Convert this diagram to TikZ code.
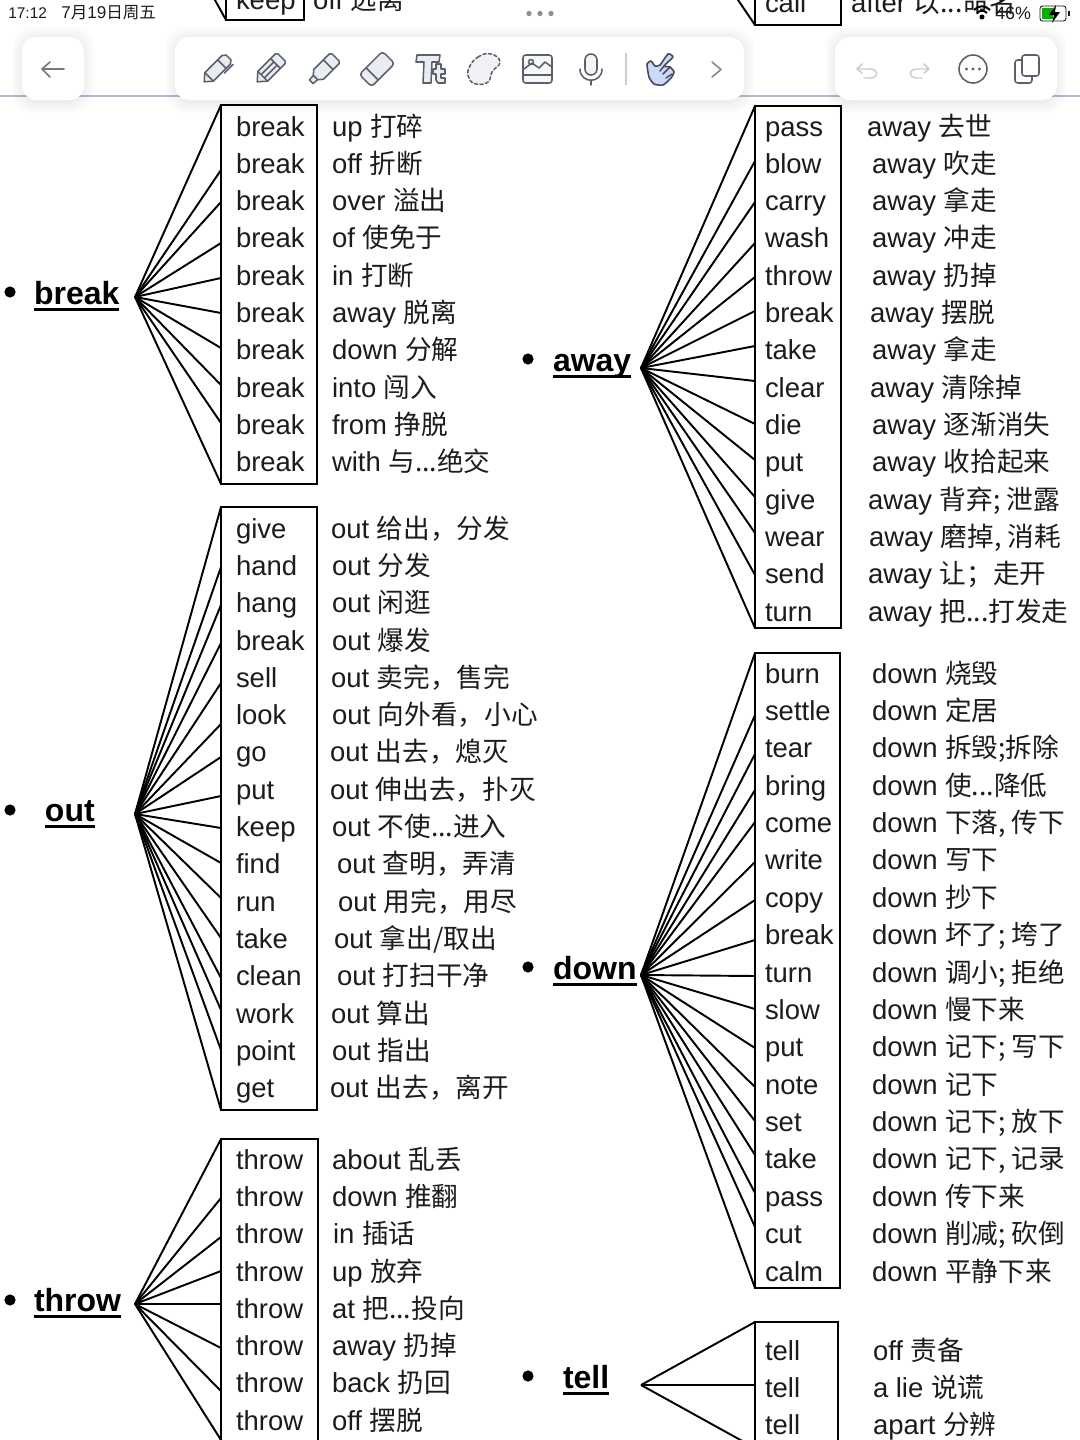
\documentclass[tikz,border=0pt]{standalone}
\usepackage{fontspec}
\usetikzlibrary{fit}
\setmainfont{Liberation Sans}
\newfontfamily\cjk[Scale=0.97]{Noto Sans CJK SC}
\newcommand\cn[1]{{\cjk #1}}
\definecolor{ink}{HTML}{1C1C1C}
\definecolor{icon}{HTML}{5A5F6B}
\definecolor{iconfill}{HTML}{E9ECF0}
\definecolor{faint}{HTML}{C9CDD3}
\definecolor{rulec}{HTML}{B3BED6}
\definecolor{handc}{HTML}{CDD9FB}
\tikzset{
  x=0.75pt,y=-0.75pt,
  wordlabel/.style={anchor=base west,inner sep=0pt,outer sep=0pt,text=ink,font=\fontsize{20.6}{24}\selectfont},
  headlabel/.style={anchor=base west,inner sep=0pt,outer sep=0pt,text=black,font=\fontsize{24}{30}\selectfont\bfseries},
  wbox/.style={draw=black,line width=1.5pt,inner sep=0pt,outer sep=0pt,fill=none},
  spoke/.style={draw=black,line width=1.45pt},
  headrule/.style={draw=black,line width=1.9pt},
  bulletdot/.style={circle,fill=black,inner sep=0pt,minimum size=8.4pt},
  panel/.style={fill=white,rounded corners=11pt},
  shadowp/.style={fill=black,fill opacity=0.012,rounded corners=15pt},
  ic/.style={draw=icon,line width=1.15pt,fill=iconfill,line join=round,line cap=round},
  icl/.style={draw=icon,line width=1.15pt,line join=round,line cap=round},
  icf/.style={draw=faint,line width=1.1pt,line cap=round,line join=round},
  statuslabel/.style={anchor=base west,inner sep=0pt,text=ink,font=\fontsize{11.6}{13}\selectfont},
}
\newcommand\mkbox[5]{\node[wbox,fit={(#2,#3)(#4,#5)}] (#1) {};}
\newcommand\headword[6]{% id, bullet x, bullet y, text x, baseline, text
  \node[bulletdot] (b#1) at (#2,#3) {};
  \node[headlabel] (h#1) at (#4,#5) {#6};
  \draw[headrule] ([yshift=-4.2pt]h#1.base west) -- ([yshift=-4.2pt]h#1.base east);
}
\begin{document}
\begin{tikzpicture}
\useasboundingbox (0,0) rectangle (1080,1440);
\fill[white] (0,0) rectangle (1080,1440);

% ---------- fragments at the top edge
\coordinate (hubKeep) at (135,-145);
\coordinate (hubCall) at (641,-143);
\mkbox{boxKeep}{226}{-40}{304}{20}
\mkbox{boxCall}{755}{-40}{841}{25}
\draw[spoke] (hubKeep) -- (boxKeep.south west);
\draw[spoke] (hubCall) -- (boxCall.south west);
\node[wordlabel] (wKeep) at (236,9) {keep};
\node[wordlabel] (tKeep) at (313,9) {off \cn{远离}};
\node[wordlabel] (wCall) at (765,12) {call};
\node[wordlabel] (tCall) at (851,12) {after \cn{以...命名}};

% ---------- break
\coordinate (hubBreak) at (135,297);
\mkbox{boxBreak}{221}{105}{317}{484}
\foreach \yy in {105,170,202,243,278,313,348,385,423,484}
  \draw[spoke] (hubBreak) -- (boxBreak.west |- 0,\yy);
\headword{Break}{10}{292}{34}{304}{break}
\foreach \rx/\tx [count=\i from 0] in {
  332/{up \cn{打碎}},332/{off \cn{折断}},332/{over \cn{溢出}},332/{of \cn{使免于}},332/{in \cn{打断}},
  332/{away \cn{脱离}},332/{down \cn{分解}},332/{into \cn{闯入}},332/{from \cn{挣脱}},332/{with \cn{与...绝交}}}{
  \pgfmathsetmacro\yy{136+37.33*\i}
  \node[wordlabel] (wBreak\i) at (236,\yy) {break};
  \node[wordlabel] (tBreak\i) at (\rx,\yy) {\tx};
}

% ---------- out
\coordinate (hubOut) at (135,814);
\mkbox{boxOut}{221}{507}{317}{1110}
\foreach \yy in {507,567,605,643,683,724,757,796,828,863,898,938,978,1010,1050,1110}
  \draw[spoke] (hubOut) -- (boxOut.west |- 0,\yy);
\headword{Out}{10}{810}{45}{821}{out}
\foreach \wrd/\rx/\tx [count=\i from 0] in {
  give/331/{out \cn{给出，分发}},hand/332/{out \cn{分发}},hang/332/{out \cn{闲逛}},break/332/{out \cn{爆发}},
  sell/331/{out \cn{卖完，售完}},look/332/{out \cn{向外看，小心}},go/330/{out \cn{出去，熄灭}},put/330/{out \cn{伸出去，扑灭}},
  keep/332/{out \cn{不使...进入}},find/337/{out \cn{查明，弄清}},run/338/{out \cn{用完，用尽}},take/334/{out \cn{拿出/取出}},
  clean/337/{out \cn{打扫干净}},work/331/{out \cn{算出}},point/332/{out \cn{指出}},get/330/{out \cn{出去，离开}}}{
  \pgfmathsetmacro\yy{538+37.33*\i}
  \node[wordlabel] (wOut\i) at (236,\yy) {\wrd};
  \node[wordlabel] (tOut\i) at (\rx,\yy) {\tx};
}

% ---------- throw
\coordinate (hubThrow) at (135,1304);
\mkbox{boxThrow}{221}{1139}{318}{1500}
\foreach \yy in {1139,1198,1237,1271,1304,1348,1391,1440}
  \draw[spoke] (hubThrow) -- (boxThrow.west |- 0,\yy);
\headword{Throw}{10}{1300}{34}{1311}{throw}
\foreach \rx/\tx [count=\i from 0] in {
  332/{about \cn{乱丢}},332/{down \cn{推翻}},333/{in \cn{插话}},332/{up \cn{放弃}},
  332/{at \cn{把...投向}},332/{away \cn{扔掉}},332/{back \cn{扔回}},332/{off \cn{摆脱}}}{
  \pgfmathsetmacro\yy{1169+37.33*\i}
  \node[wordlabel] (wThrow\i) at (236,\yy) {throw};
  \node[wordlabel] (tThrow\i) at (\rx,\yy) {\tx};
}

% ---------- away
\coordinate (hubAway) at (641,368);
\mkbox{boxAway}{755}{106}{841}{628}
\foreach \yy in {106,161,202,243,277,311,346,381,424,460,497,533,575,628}
  \draw[spoke] (hubAway) -- (boxAway.west |- 0,\yy);
\headword{Away}{528}{359}{553}{371}{away}
\foreach \wrd/\rx/\tx [count=\i from 0] in {
  pass/867/{away \cn{去世}},blow/872/{away \cn{吹走}},carry/872/{away \cn{拿走}},wash/872/{away \cn{冲走}},
  throw/872/{away \cn{扔掉}},break/870/{away \cn{摆脱}},take/872/{away \cn{拿走}},clear/870/{away \cn{清除掉}},
  die/872/{away \cn{逐渐消失}},put/872/{away \cn{收拾起来}},give/868/{away \cn{背弃; 泄露}},wear/869/{away \cn{磨掉, 消耗}},
  send/868/{away \cn{让；走开}},turn/868/{away \cn{把...打发走}}}{
  \pgfmathsetmacro\yy{136+37.33*\i}
  \node[wordlabel] (wAway\i) at (765,\yy) {\wrd};
  \node[wordlabel] (tAway\i) at (\rx,\yy) {\tx};
}

% ---------- down
\coordinate (hubDown) at (641,975);
\mkbox{boxDown}{755}{653}{840}{1288}
\foreach \yy in {653,715,754,790,822,862,900,940,976,1009,1048,1087,1121,1155,1193,1227,1288}
  \draw[spoke] (hubDown) -- (boxDown.west |- 0,\yy);
\headword{Down}{528}{967}{553}{979}{down}
\foreach \wrd/\tx [count=\i from 0] in {
  burn/{down \cn{烧毁}},settle/{down \cn{定居}},tear/{down \cn{拆毁;拆除}},bring/{down \cn{使...降低}},
  come/{down \cn{下落, 传下}},write/{down \cn{写下}},copy/{down \cn{抄下}},break/{down \cn{坏了; 垮了}},
  turn/{down \cn{调小; 拒绝}},slow/{down \cn{慢下来}},put/{down \cn{记下; 写下}},note/{down \cn{记下}},
  set/{down \cn{记下; 放下}},take/{down \cn{记下, 记录}},pass/{down \cn{传下来}},cut/{down \cn{削减; 砍倒}},
  calm/{down \cn{平静下来}}}{
  \pgfmathsetmacro\yy{683+37.38*\i}
  \node[wordlabel] (wDown\i) at (765,\yy) {\wrd};
  \node[wordlabel] (tDown\i) at (872,\yy) {\tx};
}

% ---------- tell
\coordinate (hubTell) at (641,1385);
\mkbox{boxTell}{755}{1322}{838}{1500}
\foreach \yy in {1322,1385,1448}
  \draw[spoke] (hubTell) -- (boxTell.west |- 0,\yy);
\headword{Tell}{528}{1376}{563}{1388}{tell}
\foreach \tx [count=\i from 0] in {{off \cn{责备}},{a lie \cn{说谎}},{apart \cn{分辨}}}{
  \pgfmathsetmacro\yy{1360+37.33*\i}
  \node[wordlabel] (wTell\i) at (765,\yy) {tell};
  \node[wordlabel] (tTell\i) at (873,\yy) {\tx};
}

% ---------- app chrome
\draw[rulec,line width=1.6pt] (0,96) -- (1080,96);
\foreach \g in {0,2,4,6,8,10}{
  \fill[shadowp] (22-\g,37-\g) rectangle (84+\g,100+\g+3);
  \fill[shadowp] (175-\g,37-\g) rectangle (744+\g,100+\g+3);
  \fill[shadowp] (835-\g,37-\g) rectangle (1057+\g,100+\g+3);
}
\fill[panel] (22,37) rectangle (84,100);
\fill[panel] (175,37) rectangle (744,100);
\fill[panel] (835,37) rectangle (1057,100);

% back arrow
\draw[draw=icon!85,line width=1.2pt,line cap=round,line join=round] (64,69) -- (42,69) (50,62) -- (42,69) -- (50,77);

% pen
\begin{scope}[shift={(217,69)},rotate=45,scale=0.86]
  \draw[ic] (-21,0) -- (-13,-7) -- (15,-7) -- (19,-4) -- (19,4) -- (15,7) -- (-13,7) -- cycle;
  \draw[icl] (8,-7) -- (8,7) (-13,-7) -- (-13,7) (3,9.5) -- (17,9.5);
\end{scope}
% pencil
\begin{scope}[shift={(270,69)},rotate=45,scale=0.86]
  \draw[ic] (-21,0) -- (-12,-8) -- (17,-8) -- (19,-6) -- (19,6) -- (17,8) -- (-12,8) -- cycle;
  \draw[icl] (9,-8) -- (9,8) (-12,-8) -- (-12,8) (-12,-2.7) -- (9,-2.7) (-12,2.7) -- (9,2.7);
\end{scope}
% marker
\begin{scope}[shift={(324,69)},rotate=45,scale=0.86]
  \draw[ic] (-21,-3) -- (-14,-3.5) -- (-9,-8) -- (17,-8) -- (19,-6) -- (19,6) -- (17,8) -- (-9,8) -- (-14,3.5) -- (-21,3) -- cycle;
  \draw[icl] (7,-8) -- (7,8) (-14,-3.5) -- (-14,3.5);
\end{scope}
% eraser
\begin{scope}[shift={(377,69)},rotate=45,scale=0.86]
  \draw[ic,rounded corners=2.5pt] (-19,-10) rectangle (19,10);
  \draw[icl] (-8,-10) -- (-8,10);
\end{scope}
% Tt
\draw[ic] (417,55) -- (440,55) -- (439,62) -- (432,62) -- (431,83) -- (423,83) -- (424,62) -- (416,62) -- cycle;
\draw[ic] (436,64) -- (441,64) -- (441,69) -- (445,69) -- (445,74) -- (441,74) -- (441,78) -- (445,78) -- (445,83) -- (438,83) -- (436,80) -- (436,74) -- (433,74) -- (433,69) -- (436,69) -- cycle;
% lasso
\draw[icl,fill=iconfill!70,dashed,dash pattern=on 2.4pt off 1.8pt] plot[smooth cycle,tension=0.8] coordinates {(469,68) (478,57) (491,54) (500,62) (492,72) (488,82) (476,84) (469,78)};
% image
\draw[icl,fill=iconfill!40,rounded corners=2pt] (523,55) rectangle (552,83);
\draw[icl] (523,75) -- (552,75) (524,69) -- (532,63) -- (539,68) -- (545,62) -- (552,67);
\draw[icl] (531,62) circle (1.9pt);
% mic
\draw[ic,fill=iconfill!60,rounded corners=4.4pt] (585,54) rectangle (597,75);
\draw[icl] (580,69) .. controls (580,84) and (602,84) .. (602,69) (591,80) -- (591,85);
% separator
\draw[faint,line width=0.9pt] (626,53) -- (626,85);
% hand
\draw[draw=icon!80!black,fill=handc,line width=1.2pt,line join=round] plot[smooth cycle,tension=0.35] coordinates {(668,54) (673,57) (664,66) (670,67) (674,72) (671,78) (663,85) (654,84) (649,77) (647,64) (651,61) (655,66) (660,65)};
\draw[draw=icon!80!black,line width=1.1pt,line cap=round] (664,66) -- (660,71) (670,67) -- (663,74) (672,74) -- (666,78);
% chevron
\draw[draw=icon!80,line width=1.1pt,line cap=round,line join=round] (712,62) -- (721,69.5) -- (712,77);
% undo, redo
\draw[icf] (857,69) -- (862,64) (857,69) -- (862,73) (857,69) -- (870,69) .. controls (879,69) and (879,78) .. (870,78) -- (864,78);
\draw[icf] (929,69) -- (924,64) (929,69) -- (924,73) (929,69) -- (917,69) .. controls (908,69) and (908,78) .. (917,78) -- (922,78);
% more
\draw[icl] (973,69) circle (10.5pt);
\fill[icon] (966.5,69) circle (1.3pt) (973,69) circle (1.3pt) (979.5,69) circle (1.3pt);
% pages
\draw[icl,rounded corners=2pt] (1022,55) rectangle (1039,76);
\draw[icl,rounded corners=2pt] (1022,60) -- (1015,60) -- (1015,83) -- (1032,83) -- (1032,76);

% ---------- status bar
\node[statuslabel] (clock) at (8,18) {17:12};
\node[statuslabel,font=\fontsize{12.8}{14}\selectfont] (date) at (61,18.5) {7\cn{月}19\cn{日周五}};
\fill[icon!70] (529,13.5) circle (2pt) (540,13.5) circle (2pt) (551,13.5) circle (2pt);
\node[statuslabel,font=\fontsize{13.4}{15}\selectfont] (pct) at (995,19.5) {46\%};
\draw[black,line width=1.5pt] (974,10) .. controls (979,5) and (985,5) .. (990,10);
\draw[black,line width=1.5pt] (977,13) .. controls (980,10) and (984,10) .. (987,13);
\fill[black] (982,17) circle (1.9pt);
\draw[ink,line width=0.7pt,rounded corners=2pt] (1040,6) rectangle (1066,21);
\fill[green!70!black] (1042,8) rectangle (1053,19);
\fill[ink] (1067.5,11) rectangle (1070,16);
\fill[black] (1056,5) -- (1049,15) -- (1054,15) -- (1052,23) -- (1060,12) -- (1055,12) -- cycle;
\end{tikzpicture}
\end{document}
